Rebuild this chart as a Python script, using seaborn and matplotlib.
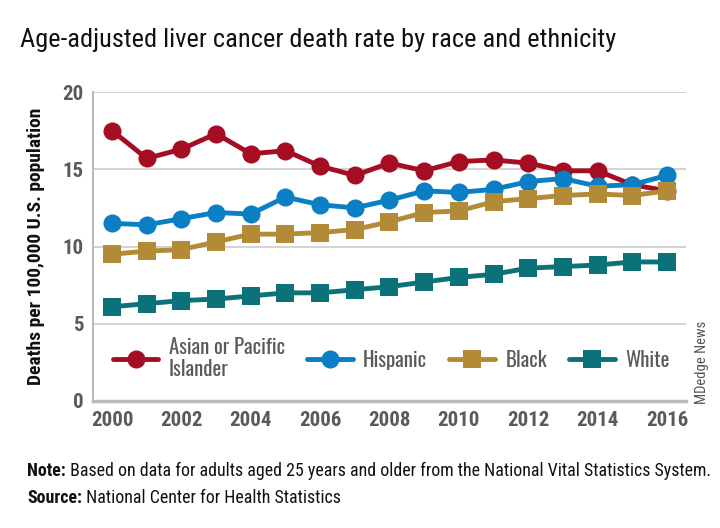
import matplotlib
matplotlib.use("Agg")
import matplotlib.pyplot as plt
import seaborn as sns
import pandas as pd
from matplotlib.font_manager import FontProperties

years = list(range(2000, 2017))
asian = [17.5, 15.7, 16.3, 17.3, 16.0, 16.2, 15.2, 14.6, 15.4, 14.9, 15.5, 15.6, 15.4, 14.9, 14.9, 14.0, 13.6]
hispanic = [11.5, 11.4, 11.8, 12.2, 12.1, 13.2, 12.7, 12.5, 13.0, 13.6, 13.5, 13.7, 14.2, 14.4, 13.9, 14.0, 14.6]
black = [9.5, 9.7, 9.8, 10.3, 10.8, 10.8, 10.9, 11.1, 11.6, 12.2, 12.3, 12.9, 13.1, 13.3, 13.4, 13.3, 13.6]
white = [6.1, 6.3, 6.5, 6.6, 6.8, 7.0, 7.0, 7.2, 7.4, 7.7, 8.0, 8.2, 8.6, 8.7, 8.8, 9.0, 9.0]
series_names = ["Asian or Pacific\nIslander", "Hispanic", "Black", "White"]
colors = ["#a50d22", "#0a7fc4", "#b38b37", "#0b727a"]
markers = ["o", "o", "s", "s"]
xticks = [2000, 2002, 2004, 2006, 2008, 2010, 2012, 2014, 2016]
yticks = [0, 5, 10, 15, 20]

sns.set_theme(style="white")
plt.rcParams["font.family"] = ["Roboto Condensed", "DejaVu Sans"]

df = pd.DataFrame({
    "year": years * 4,
    "value": asian + hispanic + black + white,
    "group": sum([[n] * len(years) for n in series_names], []),
})

fig = plt.figure(figsize=(7.2, 5.28), dpi=100)
ax = fig.add_axes([93 / 720, 1 - 401 / 528, (686 - 93) / 720, (401 - 92) / 528])

sns.lineplot(data=df, x="year", y="value", hue="group", style="group",
             hue_order=series_names, style_order=series_names,
             palette=colors, markers=markers, dashes=False,
             linewidth=3.5, markersize=13, markeredgewidth=0, ax=ax)

ax.set_xlim(1999.45, 2016.55)
ax.set_ylim(0, 20)
ax.set_xticks(xticks)
ax.set_yticks(yticks)
ax.tick_params(axis="both", length=0, labelsize=15, colors="#5a5a5a", pad=7)
for lab in ax.get_xticklabels() + ax.get_yticklabels():
    lab.set_fontweight("bold")
ax.grid(axis="y", color="#cccccc", linewidth=1.2)
ax.set_axisbelow(True)
for s in ["top", "right"]:
    ax.spines[s].set_visible(False)
ax.spines["left"].set_color("#bbbbbb")
ax.spines["left"].set_linewidth(1.5)
ax.spines["bottom"].set_color("#bbbbbb")
ax.spines["bottom"].set_linewidth(2.5)
ax.set_xlabel("")
ax.set_ylabel("Deaths per 100,000 U.S. population", fontsize=14, fontweight="bold",
              color="#111111", labelpad=12)

leg = ax.legend(loc="lower left", bbox_to_anchor=(0.012, 0.03), ncol=4, frameon=False,
                prop=FontProperties(family="Oswald", size=15), labelcolor="#5a5a5a",
                handlelength=2.2, columnspacing=1.05, handletextpad=0.5, borderaxespad=0.2)
for t in leg.get_texts():
    t.set_linespacing(1.12)

fig.text(20 / 720, 1 - 40 / 528, "Age-adjusted liver cancer death rate by race and ethnicity",
         fontsize=19, color="#111111", va="center", ha="left")

fs_note = 12.9
fig.canvas.draw()
r = fig.canvas.get_renderer()
for bold_s, rest, yy in [("Note:", " Based on data for adults aged 25 years and older from the National Vital Statistics System.", 476),
                         ("Source:", " National Center for Health Statistics", 503)]:
    b = fig.text(27 / 720, 1 - yy / 528, bold_s, fontsize=fs_note, fontweight="bold",
                 color="#111111", va="baseline", ha="left")
    bb = b.get_window_extent(r)
    fig.text(bb.x1 / fig.bbox.width, 1 - yy / 528, rest, fontsize=fs_note, color="#111111",
             va="baseline", ha="left")

fig.text(702 / 720, 1 - 362 / 528, "MDedge News", rotation=90, fontsize=10.5,
         color="#555555", va="center", ha="center")

fig.savefig("out.png", dpi=100)
